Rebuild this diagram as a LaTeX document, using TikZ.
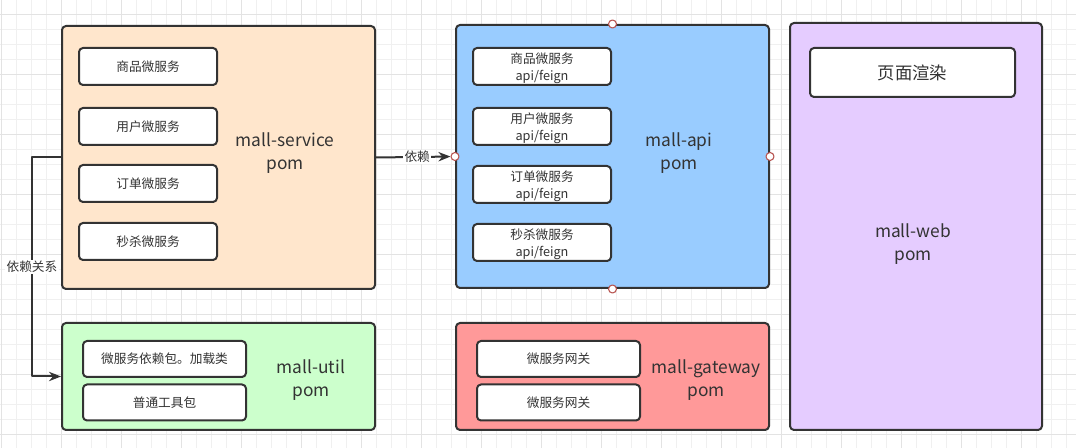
\documentclass[tikz,border=0pt]{standalone}
\usepackage{fontspec}
\setmainfont{Noto Sans CJK SC}
\usetikzlibrary{arrows.meta}
\definecolor{linec}{HTML}{333333}
\definecolor{textc}{HTML}{333333}
\definecolor{gridc}{HTML}{F0F0F0}
\definecolor{gridm}{HTML}{E3E3E3}
\definecolor{portc}{HTML}{B85450}
\definecolor{svcc}{HTML}{FFE6CC}
\definecolor{apic}{HTML}{99CCFF}
\definecolor{webc}{HTML}{E5CCFF}
\definecolor{utilc}{HTML}{CCFFCC}
\definecolor{gatec}{HTML}{FF9999}
\begin{document}
\begin{tikzpicture}[x=0.75pt, y=-0.75pt, >={Stealth[length=9pt,width=7pt]}, line join=round,
	font=\fontsize{9.5}{12.5}\selectfont,
	mod/.style 2 args={draw=linec, line width=1.5pt, rounded corners=3pt, inner sep=0pt, minimum width=#1*0.75pt, minimum height=#2*0.75pt},
	item/.style={mod={138}{37}, fill=white, align=center, text=textc},
	tool/.style={mod={163}{36}, fill=white, align=center, text=textc},
	pom/.style={font=\fontsize{13}{17}\selectfont, align=center, text=textc},
	port/.style={circle, draw=portc, fill=white, line width=0.8pt, inner sep=0pt, minimum size=6pt},
	link/.style={draw=linec, line width=1.5pt},
	tag/.style={fill=white, inner sep=1pt, text=textc}]
	\useasboundingbox (0,0) rectangle (1076,448);
	\fill[white] (0,0) rectangle (1076,448);
	% luoi nen
	\foreach \x in {1,16,...,1076} \draw[gridc, line width=0.6pt] (\x,0)--(\x,448);
	\foreach \y in {14,29,...,448} \draw[gridc, line width=0.6pt] (0,\y)--(1076,\y);
	\foreach \x in {1,61,...,1076} \draw[gridm, line width=0.6pt] (\x,0)--(\x,448);
	\foreach \y in {14,74,...,448} \draw[gridm, line width=0.6pt] (0,\y)--(1076,\y);
	% mall-service
	\node[mod={313}{263}, fill=svcc] (svc) at (218.5,157.5) {};
	\node[pom] (svclab) at (285,153) {mall-service\\pom};
	\foreach \t/\y [count=\i] in {商品/66.5, 用户/126.5, 订单/183.5, 秒杀/241.5}
	\node[item] (svc\i) at (148,\y) {\t{}微服务};
	% mall-api
	\node[mod={313}{263}, fill=apic] (api) at (612.5,156.5) {};
	\node[pom] (apilab) at (679,153) {mall-api\\pom};
	\foreach \t/\y [count=\i] in {商品/66.5, 用户/126.5, 订单/184.5, 秒杀/242.5}
	\node[item, minimum height=37*0.75pt, text depth=0pt] (api\i) at (542,\y) {\t{}微服务\\api/feign};
	% mall-web
	\node[mod={252}{407}, fill=webc] (web) at (916,226.5) {};
	\node[pom] (weblab) at (913,244) {mall-web\\pom};
	\node[mod={205}{49}, fill=white, pom] (render) at (912.5,72.5) {页面渲染};
	% mall-util
	\node[mod={313}{107}, fill=utilc] (util) at (218.5,376.5) {};
	\node[pom] (utillab) at (311,380) {mall-util\\pom};
	\node[tool] (util1) at (164.5,359) {微服务依赖包。加载类};
	\node[tool] (util2) at (164.5,402.5) {普通工具包};
	% mall-gateway
	\node[mod={313}{107}, fill=gatec] (gate) at (612.5,376.5) {};
	\node[pom] (gatelab) at (706,380) {mall-gateway\\pom};
	\node[tool] (gate1) at (558.5,359) {微服务网关};
	\node[tool] (gate2) at (558.5,402.5) {微服务网关};
	% diem noi
	\foreach \p in {north,south,west,east}
	\node[port] (api-\p) at (api.\p) {};
	% mui ten
	\draw[link,->] (svc.east) -- node[tag, xshift=3pt] (dep) {依赖} (api-west);
	\draw[link,->] (svc.west) -- ++(-29,0) |- node[tag, pos=0.25] (deprel) {依赖关系} (util.west);
\end{tikzpicture}
\end{document}
